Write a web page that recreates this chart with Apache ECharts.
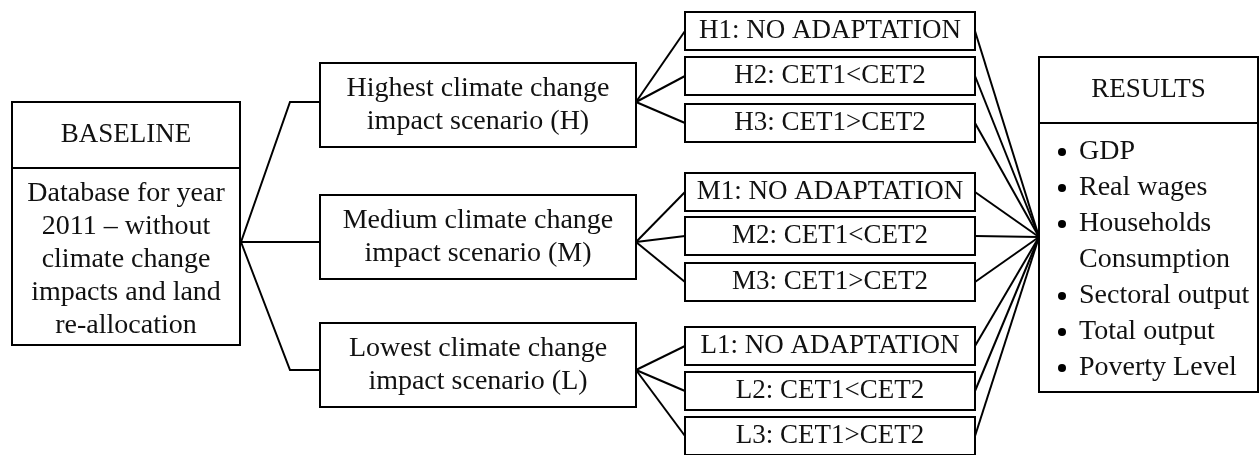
<!DOCTYPE html>
<html><head><meta charset="utf-8">
<script src="https://cdn.jsdelivr.net/npm/echarts@6/dist/echarts.min.js"></script>
<style>html,body{margin:0;padding:0;background:#fff}#c{width:1260px;height:455px}</style>
</head><body><div id="c"></div>
<script>
// ---------------- content ----------------
const baselineTitle = 'BASELINE';
const baselineLines = ['Database for year', '2011 – without', 'climate change', 'impacts and land', 're-allocation'];
const scenarioLines = [
  ['Highest climate change', 'impact scenario (H)'],
  ['Medium climate change', 'impact scenario (M)'],
  ['Lowest climate change', 'impact scenario (L)']
];
const adaptationLabels = [
  ['H1: NO ADAPTATION', 'H2: CET1<CET2', 'H3: CET1>CET2'],
  ['M1: NO ADAPTATION', 'M2: CET1<CET2', 'M3: CET1>CET2'],
  ['L1: NO ADAPTATION', 'L2: CET1<CET2', 'L3: CET1>CET2']
];
const resultsTitle = 'RESULTS';
const resultsItems = [['GDP'], ['Real wages'], ['Households', 'Consumption'], ['Sectoral output'], ['Total output'], ['Poverty Level']];

// ---------------- layout (axis units) ----------------
const LAY = {
  base: { x0: 12, x1: 240, y0: 102, y1: 345, div: 168, titleY: 135, bodyY: 194, gap: 33, hubX: 241, hubY: 242 },
  scen: { x0: 320, x1: 636, tops: [63, 195, 323], h: 84, gap: 33, portY: [102, 242, 370], elbowX: 290 },
  adapt: { x0: 685, x1: 975, tops: [[12, 57, 104], [173, 217, 263], [327, 372, 417]], h: 38 },
  res: { x0: 1039, x1: 1258, y0: 57, y1: 392, div: 123, titleY: 90, hubY: 237, bulletX: 1062, textX: 1079, firstY: 152, gap: 36 }
};
const FONT_CAPS = '27px "Liberation Serif", "Times New Roman", serif';
const FONT_TEXT = '28px "Liberation Serif", "Times New Roman", serif';
const INK = '#111';

// ---------------- build nodes & links ----------------
const nodes = [];
nodes.push({ kind: 'base' });
scenarioLines.forEach((ls, s) => nodes.push({ kind: 'scen', s }));
adaptationLabels.forEach((row, s) => row.forEach((lab, k) => nodes.push({ kind: 'adapt', s, k })));
nodes.push({ kind: 'res' });

const links = [];
const B = LAY.base, S = LAY.scen, A = LAY.adapt, R = LAY.res;
scenarioLines.forEach((ls, s) => {
  const py = S.portY[s];
  if (Math.abs(py - B.hubY) < 1) links.push([[B.hubX, B.hubY], [S.x0, py]]);
  else links.push([[B.hubX, B.hubY], [S.elbowX, py], [S.x0, py]]);
  adaptationLabels[s].forEach((lab, k) => {
    const cy = A.tops[s][k] + A.h / 2;
    links.push([[S.x1, py], [A.x0, cy]]);
    links.push([[A.x1, cy], [R.x0, R.hubY]]);
  });
});

function P(api, x, y) { return api.coord([x, y]); }
function rectEl(api, x0, y0, x1, y1) {
  const a = P(api, x0, y0), b = P(api, x1, y1);
  return { type: 'rect', shape: { x: a[0], y: a[1], width: b[0] - a[0], height: b[1] - a[1] },
    style: { fill: '#fff', stroke: '#000', lineWidth: 2 } };
}
function lineEl(api, pts) {
  return { type: 'polyline', shape: { points: pts.map(p => P(api, p[0], p[1])) },
    style: { stroke: '#000', lineWidth: 2, fill: null } };
}
function textEl(api, t, x, y, align, font) {
  const p = P(api, x, y);
  return { type: 'text', style: { text: t, x: p[0], y: p[1], font: font || FONT_TEXT, fill: INK, align: align || 'center', verticalAlign: 'middle' } };
}

function renderNode(params, api) {
  const n = nodes[params.dataIndex];
  const ch = [];
  if (n.kind === 'base') {
    ch.push(rectEl(api, B.x0, B.y0, B.x1, B.y1));
    ch.push(lineEl(api, [[B.x0, B.div], [B.x1, B.div]]));
    const cx = (B.x0 + B.x1) / 2;
    ch.push(textEl(api, baselineTitle, cx, B.titleY, 'center', FONT_CAPS));
    baselineLines.forEach((t, i) => ch.push(textEl(api, t, cx, B.bodyY + i * B.gap)));
  } else if (n.kind === 'scen') {
    const y0 = S.tops[n.s], y1 = y0 + S.h, cy = (y0 + y1) / 2, cx = (S.x0 + S.x1) / 2;
    ch.push(rectEl(api, S.x0, y0, S.x1, y1));
    const ls = scenarioLines[n.s];
    ls.forEach((t, i) => ch.push(textEl(api, t, cx, cy + (i - (ls.length - 1) / 2) * S.gap)));
  } else if (n.kind === 'adapt') {
    const y0 = A.tops[n.s][n.k], y1 = y0 + A.h;
    ch.push(rectEl(api, A.x0, y0, A.x1, y1));
    ch.push(textEl(api, adaptationLabels[n.s][n.k], (A.x0 + A.x1) / 2, (y0 + y1) / 2, 'center', FONT_CAPS));
  } else if (n.kind === 'res') {
    ch.push(rectEl(api, R.x0, R.y0, R.x1, R.y1));
    ch.push(lineEl(api, [[R.x0, R.div], [R.x1, R.div]]));
    ch.push(textEl(api, resultsTitle, (R.x0 + R.x1) / 2, R.titleY, 'center', FONT_CAPS));
    let row = 0;
    resultsItems.forEach(item => {
      const by = R.firstY + row * R.gap;
      const c = P(api, R.bulletX, by);
      ch.push({ type: 'circle', shape: { cx: c[0], cy: c[1], r: 4 }, style: { fill: '#000' } });
      item.forEach(t => { ch.push(textEl(api, t, R.textX, R.firstY + row * R.gap, 'left')); row++; });
    });
  }
  return { type: 'group', children: ch };
}
function renderLink(params, api) {
  return lineEl(api, links[params.dataIndex]);
}

const chart = echarts.init(document.getElementById('c'));
chart.setOption({
  animation: false,
  grid: { left: 0, right: 0, top: 0, bottom: 0 },
  xAxis: { type: 'value', min: 0, max: 1260, show: false },
  yAxis: { type: 'value', min: 0, max: 455, inverse: true, show: false },
  series: [
    { type: 'custom', coordinateSystem: 'cartesian2d', clip: false, renderItem: renderLink,
      data: links.map((l, i) => [i, 0]), silent: true },
    { type: 'custom', coordinateSystem: 'cartesian2d', clip: false, renderItem: renderNode,
      data: nodes.map((n, i) => [i, 0]), silent: true }
  ]
});
</script>
</body></html>
